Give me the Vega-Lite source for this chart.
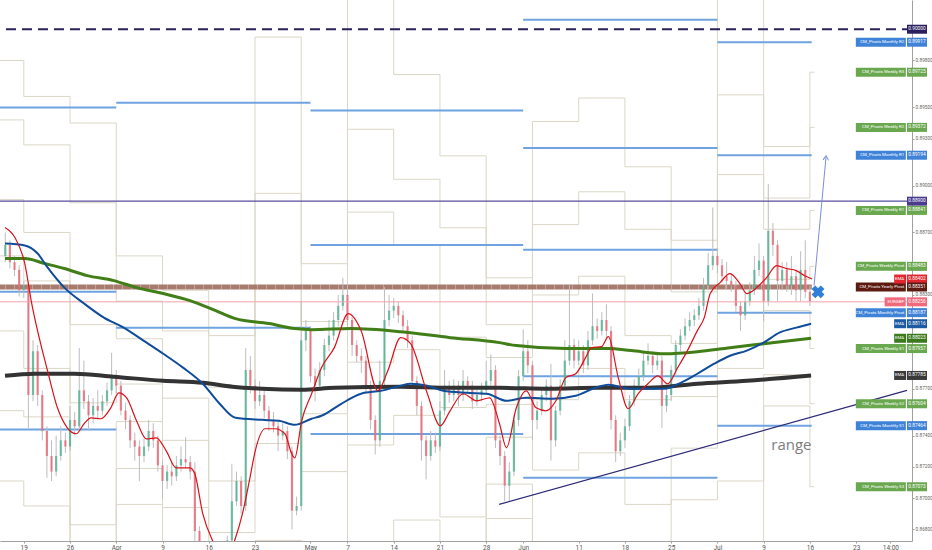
{
"$schema": "https://vega.github.io/schema/vega-lite/v6.json",
"width": 912, "height": 541,
"autosize": {"type": "none"},
"padding": {"left": 0, "top": 0, "right": 20, "bottom": 9},
"background": "#ffffff",
"config": {"view": {"stroke": null}, "font": "Roboto", "axis": {"titleOpacity": 0}},
"datasets": {
"weekly": [
{"t":-3,"R3":0.8980,"R2":0.8942,"R1":0.8891,"P":0.8855,"S1":0.8807,"S2":0.8756,"S3":0.8711},
{"t":0,"R3":0.8957,"R2":0.8926,"R1":0.8870,"P":0.8839,"S1":0.8783,"S2":0.8752,"S3":0.8695},
{"t":5,"R3":0.8940,"R2":0.8889,"R1":0.8811,"P":0.8761,"S1":0.8683,"S2":0.8633,"S3":0.8555},
{"t":10,"R3":0.8855,"R2":0.8826,"R1":0.8802,"P":0.8773,"S1":0.8749,"S2":0.8719,"S3":0.8696},
{"t":15,"R3":0.8833,"R2":0.8807,"R1":0.8764,"P":0.8737,"S1":0.8694,"S2":0.8668,"S3":0.8625},
{"t":20,"R3":0.8804,"R2":0.8771,"R1":0.8711,"P":0.8678,"S1":0.8618,"S2":0.8585,"S3":0.8525},
{"t":25,"R3":0.8995,"R2":0.8895,"R1":0.8834,"P":0.8735,"S1":0.8673,"S2":0.8574,"S3":0.8512},
{"t":30,"R3":0.8850,"R2":0.8813,"R1":0.8754,"P":0.8717,"S1":0.8658,"S2":0.8621,"S3":0.8562},
{"t":35,"R3":0.9031,"R2":0.8936,"R1":0.8883,"P":0.8787,"S1":0.8734,"S2":0.8639,"S3":0.8585},
{"t":40,"R3":0.8971,"R2":0.8904,"R1":0.8862,"P":0.8795,"S1":0.8753,"S2":0.8686,"S3":0.8644},
{"t":45,"R3":0.8919,"R2":0.8873,"R1":0.8803,"P":0.8758,"S1":0.8688,"S2":0.8642,"S3":0.8573},
{"t":50,"R3":0.8841,"R2":0.8811,"R1":0.8790,"P":0.8760,"S1":0.8739,"S2":0.8709,"S3":0.8687},
{"t":55,"R3":0.8941,"R2":0.8875,"R1":0.8830,"P":0.8763,"S1":0.8718,"S2":0.8652,"S3":0.8607},
{"t":60,"R3":0.8956,"R2":0.8896,"R1":0.8842,"P":0.8783,"S1":0.8729,"S2":0.8670,"S3":0.8615},
{"t":65,"R3":0.8912,"R2":0.8872,"R1":0.8804,"P":0.8763,"S1":0.8696,"S2":0.8655,"S3":0.8587},
{"t":70,"R3":0.8865,"R2":0.8832,"R1":0.8799,"P":0.8765,"S1":0.8732,"S2":0.8699,"S3":0.8665},
{"t":75,"R3":0.9030,"R2":0.8958,"R1":0.8907,"P":0.8835,"S1":0.8783,"S2":0.8711,"S3":0.8660},
{"t":80,"R3":0.8925,"R2":0.8892,"R1":0.8872,"P":0.8840,"S1":0.8820,"S2":0.8779,"S3":0.8759},
{"t":85,"R3":0.89725,"R2":0.89372,"R1":0.88841,"P":0.88483,"S1":0.87957,"S2":0.87604,"S3":0.87073},
{"t":85.5,"R3":0.89725,"R2":0.89372,"R1":0.88841,"P":0.88483,"S1":0.87957,"S2":0.87604,"S3":0.87073}
],
"monthly": [
{"s":-3,"e":10,"v":0.8950},{"s":-3,"e":10,"v":0.8832},{"s":-3,"e":10,"v":0.8744},
{"s":10,"e":31,"v":0.8953},{"s":10,"e":31,"v":0.8809},
{"s":31,"e":54,"v":0.8948},{"s":31,"e":54,"v":0.8862},{"s":31,"e":54,"v":0.8741},
{"s":54,"e":75,"v":0.9006},{"s":54,"e":75,"v":0.8924},{"s":54,"e":75,"v":0.8859},{"s":54,"e":75,"v":0.8778},{"s":54,"e":75,"v":0.8713},
{"s":75,"e":85.2,"v":0.89917},{"s":75,"e":85.2,"v":0.89194},{"s":75,"e":85.2,"v":0.88187},{"s":75,"e":85.2,"v":0.87464}
],
"levels": [
{"kind":"navy","v":0.90000},{"kind":"purple","v":0.88900},{"kind":"price","v":0.88256},{"kind":"yearly","v":0.88351,"s":-3,"e":85.2}
],
"candles": [
{"t":-2,"o":0.8855,"h":0.8870,"l":0.8851,"c":0.8862},
{"t":-1.5,"o":0.8862,"h":0.8865,"l":0.8847,"c":0.8851},
{"t":-1,"o":0.8851,"h":0.8855,"l":0.8842,"c":0.8846},
{"t":-0.5,"o":0.8846,"h":0.8849,"l":0.8829,"c":0.8833},
{"t":0,"o":0.8833,"h":0.8839,"l":0.8828,"c":0.8836},
{"t":0.5,"o":0.8836,"h":0.8838,"l":0.8745,"c":0.8766},
{"t":1,"o":0.8766,"h":0.8801,"l":0.8762,"c":0.8794},
{"t":1.5,"o":0.8794,"h":0.8798,"l":0.8759,"c":0.8766},
{"t":2,"o":0.8766,"h":0.8769,"l":0.8737,"c":0.8743},
{"t":2.5,"o":0.8743,"h":0.8746,"l":0.8713,"c":0.8727},
{"t":3,"o":0.8727,"h":0.8737,"l":0.8711,"c":0.8717},
{"t":3.5,"o":0.8717,"h":0.8740,"l":0.8714,"c":0.8727},
{"t":4,"o":0.8727,"h":0.8746,"l":0.8724,"c":0.8737},
{"t":4.5,"o":0.8737,"h":0.8742,"l":0.8729,"c":0.8733},
{"t":5,"o":0.8733,"h":0.8759,"l":0.8730,"c":0.8750},
{"t":5.5,"o":0.8750,"h":0.8755,"l":0.8740,"c":0.8746},
{"t":6,"o":0.8746,"h":0.8796,"l":0.8743,"c":0.8769},
{"t":6.5,"o":0.8769,"h":0.8788,"l":0.8757,"c":0.8762},
{"t":7,"o":0.8762,"h":0.8766,"l":0.8743,"c":0.8753},
{"t":7.5,"o":0.8753,"h":0.8764,"l":0.8748,"c":0.8759},
{"t":8,"o":0.8759,"h":0.8769,"l":0.8751,"c":0.8756},
{"t":8.5,"o":0.8756,"h":0.8766,"l":0.8753,"c":0.8762},
{"t":9,"o":0.8762,"h":0.8774,"l":0.8759,"c":0.8769},
{"t":9.5,"o":0.8769,"h":0.8793,"l":0.8766,"c":0.8778},
{"t":10,"o":0.8778,"h":0.8782,"l":0.8767,"c":0.8772},
{"t":10.5,"o":0.8772,"h":0.8775,"l":0.8753,"c":0.8756},
{"t":11,"o":0.8756,"h":0.8761,"l":0.8744,"c":0.8750},
{"t":11.5,"o":0.8750,"h":0.8753,"l":0.8732,"c":0.8737},
{"t":12,"o":0.8737,"h":0.8742,"l":0.8724,"c":0.8733},
{"t":12.5,"o":0.8733,"h":0.8737,"l":0.8711,"c":0.8727},
{"t":13,"o":0.8727,"h":0.8738,"l":0.8723,"c":0.8733},
{"t":13.5,"o":0.8733,"h":0.8750,"l":0.8730,"c":0.8743},
{"t":14,"o":0.8743,"h":0.8748,"l":0.8732,"c":0.8737},
{"t":14.5,"o":0.8737,"h":0.8740,"l":0.8717,"c":0.8721},
{"t":15,"o":0.8721,"h":0.8724,"l":0.8700,"c":0.8711},
{"t":15.5,"o":0.8711,"h":0.8721,"l":0.8706,"c":0.8717},
{"t":16,"o":0.8717,"h":0.8723,"l":0.8708,"c":0.8714},
{"t":16.5,"o":0.8714,"h":0.8727,"l":0.8711,"c":0.8721},
{"t":17,"o":0.8721,"h":0.8733,"l":0.8717,"c":0.8725},
{"t":17.5,"o":0.8725,"h":0.8739,"l":0.8719,"c":0.8723},
{"t":18,"o":0.8723,"h":0.8727,"l":0.8712,"c":0.8717},
{"t":18.5,"o":0.8717,"h":0.8723,"l":0.8669,"c":0.8679},
{"t":19,"o":0.8679,"h":0.8682,"l":0.8653,"c":0.8660},
{"t":19.5,"o":0.8660,"h":0.8663,"l":0.8644,"c":0.8650},
{"t":20,"o":0.8650,"h":0.8657,"l":0.8640,"c":0.8647},
{"t":20.5,"o":0.8647,"h":0.8650,"l":0.8635,"c":0.8640},
{"t":21,"o":0.8640,"h":0.8652,"l":0.8637,"c":0.8647},
{"t":21.5,"o":0.8647,"h":0.8658,"l":0.8644,"c":0.8653},
{"t":22,"o":0.8653,"h":0.8676,"l":0.8650,"c":0.8673},
{"t":22.5,"o":0.8673,"h":0.8722,"l":0.8669,"c":0.8698},
{"t":23,"o":0.8698,"h":0.8717,"l":0.8695,"c":0.8711},
{"t":23.5,"o":0.8711,"h":0.8714,"l":0.8690,"c":0.8695},
{"t":24,"o":0.8695,"h":0.8796,"l":0.8692,"c":0.8782},
{"t":24.5,"o":0.8782,"h":0.8791,"l":0.8767,"c":0.8772},
{"t":25,"o":0.8772,"h":0.8776,"l":0.8757,"c":0.8762},
{"t":25.5,"o":0.8762,"h":0.8775,"l":0.8759,"c":0.8766},
{"t":26,"o":0.8766,"h":0.8769,"l":0.8751,"c":0.8756},
{"t":26.5,"o":0.8756,"h":0.8759,"l":0.8743,"c":0.8750},
{"t":27,"o":0.8750,"h":0.8755,"l":0.8742,"c":0.8746},
{"t":27.5,"o":0.8746,"h":0.8750,"l":0.8730,"c":0.8740},
{"t":28,"o":0.8740,"h":0.8748,"l":0.8737,"c":0.8743},
{"t":28.5,"o":0.8743,"h":0.8746,"l":0.8725,"c":0.8730},
{"t":29,"o":0.8730,"h":0.8733,"l":0.8680,"c":0.8692},
{"t":29.5,"o":0.8692,"h":0.8701,"l":0.8689,"c":0.8695},
{"t":30,"o":0.8695,"h":0.8826,"l":0.8692,"c":0.8801},
{"t":30.5,"o":0.8801,"h":0.8814,"l":0.8794,"c":0.8807},
{"t":31,"o":0.8807,"h":0.8810,"l":0.8774,"c":0.8778},
{"t":31.5,"o":0.8778,"h":0.8783,"l":0.8762,"c":0.8772},
{"t":32,"o":0.8772,"h":0.8787,"l":0.8769,"c":0.8782},
{"t":32.5,"o":0.8782,"h":0.8802,"l":0.8778,"c":0.8798},
{"t":33,"o":0.8798,"h":0.8814,"l":0.8794,"c":0.8804},
{"t":33.5,"o":0.8804,"h":0.8819,"l":0.8801,"c":0.8814},
{"t":34,"o":0.8814,"h":0.8830,"l":0.8810,"c":0.8823},
{"t":34.5,"o":0.8823,"h":0.8841,"l":0.8820,"c":0.8830},
{"t":35,"o":0.8830,"h":0.8837,"l":0.8810,"c":0.8814},
{"t":35.5,"o":0.8814,"h":0.8817,"l":0.8791,"c":0.8798},
{"t":36,"o":0.8798,"h":0.8801,"l":0.8787,"c":0.8791},
{"t":36.5,"o":0.8791,"h":0.8796,"l":0.8780,"c":0.8788},
{"t":37,"o":0.8788,"h":0.8791,"l":0.8767,"c":0.8772},
{"t":37.5,"o":0.8772,"h":0.8775,"l":0.8744,"c":0.8750},
{"t":38,"o":0.8750,"h":0.8753,"l":0.8728,"c":0.8737},
{"t":38.5,"o":0.8737,"h":0.8788,"l":0.8733,"c":0.8775},
{"t":39,"o":0.8775,"h":0.8835,"l":0.8772,"c":0.8814},
{"t":39.5,"o":0.8814,"h":0.8830,"l":0.8810,"c":0.8820},
{"t":40,"o":0.8820,"h":0.8828,"l":0.8815,"c":0.8823},
{"t":40.5,"o":0.8823,"h":0.8826,"l":0.8812,"c":0.8817},
{"t":41,"o":0.8817,"h":0.8820,"l":0.8806,"c":0.8810},
{"t":41.5,"o":0.8810,"h":0.8814,"l":0.8796,"c":0.8801},
{"t":42,"o":0.8801,"h":0.8804,"l":0.8770,"c":0.8775},
{"t":42.5,"o":0.8775,"h":0.8778,"l":0.8753,"c":0.8759},
{"t":43,"o":0.8759,"h":0.8762,"l":0.8724,"c":0.8737},
{"t":43.5,"o":0.8737,"h":0.8740,"l":0.8712,"c":0.8727},
{"t":44,"o":0.8727,"h":0.8743,"l":0.8724,"c":0.8737},
{"t":44.5,"o":0.8737,"h":0.8742,"l":0.8729,"c":0.8733},
{"t":45,"o":0.8733,"h":0.8762,"l":0.8730,"c":0.8756},
{"t":45.5,"o":0.8756,"h":0.8782,"l":0.8753,"c":0.8772},
{"t":46,"o":0.8772,"h":0.8775,"l":0.8761,"c":0.8766},
{"t":46.5,"o":0.8766,"h":0.8776,"l":0.8762,"c":0.8772},
{"t":47,"o":0.8772,"h":0.8775,"l":0.8759,"c":0.8766},
{"t":47.5,"o":0.8766,"h":0.8782,"l":0.8762,"c":0.8775},
{"t":48,"o":0.8775,"h":0.8778,"l":0.8767,"c":0.8772},
{"t":48.5,"o":0.8772,"h":0.8775,"l":0.8757,"c":0.8762},
{"t":49,"o":0.8762,"h":0.8770,"l":0.8759,"c":0.8766},
{"t":49.5,"o":0.8766,"h":0.8774,"l":0.8762,"c":0.8769},
{"t":50,"o":0.8769,"h":0.8788,"l":0.8766,"c":0.8775},
{"t":50.5,"o":0.8775,"h":0.8792,"l":0.8772,"c":0.8782},
{"t":51,"o":0.8782,"h":0.8785,"l":0.8732,"c":0.8737},
{"t":51.5,"o":0.8737,"h":0.8740,"l":0.8721,"c":0.8727},
{"t":52,"o":0.8727,"h":0.8730,"l":0.8698,"c":0.8708},
{"t":52.5,"o":0.8708,"h":0.8723,"l":0.8698,"c":0.8717},
{"t":53,"o":0.8717,"h":0.8753,"l":0.8714,"c":0.8750},
{"t":53.5,"o":0.8750,"h":0.8782,"l":0.8746,"c":0.8778},
{"t":54,"o":0.8778,"h":0.8808,"l":0.8775,"c":0.8794},
{"t":54.5,"o":0.8794,"h":0.8801,"l":0.8780,"c":0.8785},
{"t":55,"o":0.8785,"h":0.8788,"l":0.8737,"c":0.8750},
{"t":55.5,"o":0.8750,"h":0.8762,"l":0.8744,"c":0.8756},
{"t":56,"o":0.8756,"h":0.8770,"l":0.8753,"c":0.8766},
{"t":56.5,"o":0.8766,"h":0.8776,"l":0.8762,"c":0.8772},
{"t":57,"o":0.8772,"h":0.8786,"l":0.8724,"c":0.8737},
{"t":57.5,"o":0.8737,"h":0.8759,"l":0.8733,"c":0.8756},
{"t":58,"o":0.8756,"h":0.8776,"l":0.8753,"c":0.8772},
{"t":58.5,"o":0.8772,"h":0.8801,"l":0.8769,"c":0.8788},
{"t":59,"o":0.8788,"h":0.8837,"l":0.8785,"c":0.8798},
{"t":59.5,"o":0.8798,"h":0.8802,"l":0.8783,"c":0.8788},
{"t":60,"o":0.8788,"h":0.8801,"l":0.8785,"c":0.8794},
{"t":60.5,"o":0.8794,"h":0.8798,"l":0.8780,"c":0.8785},
{"t":61,"o":0.8785,"h":0.8807,"l":0.8782,"c":0.8801},
{"t":61.5,"o":0.8801,"h":0.8831,"l":0.8798,"c":0.8810},
{"t":62,"o":0.8810,"h":0.8815,"l":0.8802,"c":0.8807},
{"t":62.5,"o":0.8807,"h":0.8819,"l":0.8804,"c":0.8814},
{"t":63,"o":0.8814,"h":0.8824,"l":0.8802,"c":0.8807},
{"t":63.5,"o":0.8807,"h":0.8810,"l":0.8744,"c":0.8750},
{"t":64,"o":0.8750,"h":0.8753,"l":0.8723,"c":0.8730},
{"t":64.5,"o":0.8730,"h":0.8742,"l":0.8727,"c":0.8737},
{"t":65,"o":0.8737,"h":0.8751,"l":0.8732,"c":0.8746},
{"t":65.5,"o":0.8746,"h":0.8766,"l":0.8743,"c":0.8762},
{"t":66,"o":0.8762,"h":0.8776,"l":0.8759,"c":0.8772},
{"t":66.5,"o":0.8772,"h":0.8783,"l":0.8769,"c":0.8778},
{"t":67,"o":0.8778,"h":0.8793,"l":0.8775,"c":0.8788},
{"t":67.5,"o":0.8788,"h":0.8799,"l":0.8785,"c":0.8791},
{"t":68,"o":0.8791,"h":0.8794,"l":0.8780,"c":0.8785},
{"t":68.5,"o":0.8785,"h":0.8793,"l":0.8782,"c":0.8788},
{"t":69,"o":0.8788,"h":0.8791,"l":0.8745,"c":0.8759},
{"t":69.5,"o":0.8759,"h":0.8770,"l":0.8755,"c":0.8766},
{"t":70,"o":0.8766,"h":0.8785,"l":0.8762,"c":0.8782},
{"t":70.5,"o":0.8782,"h":0.8801,"l":0.8778,"c":0.8798},
{"t":71,"o":0.8798,"h":0.8808,"l":0.8794,"c":0.8804},
{"t":71.5,"o":0.8804,"h":0.8815,"l":0.8801,"c":0.8810},
{"t":72,"o":0.8810,"h":0.8819,"l":0.8807,"c":0.8814},
{"t":72.5,"o":0.8814,"h":0.8821,"l":0.8810,"c":0.8817},
{"t":73,"o":0.8817,"h":0.8828,"l":0.8814,"c":0.8823},
{"t":73.5,"o":0.8823,"h":0.8841,"l":0.8820,"c":0.8836},
{"t":74,"o":0.8836,"h":0.8857,"l":0.8833,"c":0.8849},
{"t":74.5,"o":0.8849,"h":0.8886,"l":0.8846,"c":0.8855},
{"t":75,"o":0.8855,"h":0.8860,"l":0.8844,"c":0.8849},
{"t":75.5,"o":0.8849,"h":0.8853,"l":0.8838,"c":0.8842},
{"t":76,"o":0.8842,"h":0.8851,"l":0.8834,"c":0.8839},
{"t":76.5,"o":0.8839,"h":0.8844,"l":0.8832,"c":0.8836},
{"t":77,"o":0.8836,"h":0.8839,"l":0.8819,"c":0.8823},
{"t":77.5,"o":0.8823,"h":0.8826,"l":0.8807,"c":0.8817},
{"t":78,"o":0.8817,"h":0.8832,"l":0.8814,"c":0.8826},
{"t":78.5,"o":0.8826,"h":0.8838,"l":0.8823,"c":0.8833},
{"t":79,"o":0.8833,"h":0.8855,"l":0.8830,"c":0.8846},
{"t":79.5,"o":0.8846,"h":0.8863,"l":0.8842,"c":0.8852},
{"t":80,"o":0.8852,"h":0.8855,"l":0.8813,"c":0.8826},
{"t":80.5,"o":0.8826,"h":0.8901,"l":0.8823,"c":0.8871},
{"t":81,"o":0.8871,"h":0.8876,"l":0.8855,"c":0.8862},
{"t":81.5,"o":0.8862,"h":0.8865,"l":0.8826,"c":0.8839},
{"t":82,"o":0.8839,"h":0.8851,"l":0.8833,"c":0.8846},
{"t":82.5,"o":0.8846,"h":0.8851,"l":0.8832,"c":0.8836},
{"t":83,"o":0.8836,"h":0.8855,"l":0.8830,"c":0.8842},
{"t":83.5,"o":0.8842,"h":0.8846,"l":0.8826,"c":0.8833},
{"t":84,"o":0.8833,"h":0.8858,"l":0.8826,"c":0.8846},
{"t":84.5,"o":0.8846,"h":0.8865,"l":0.8828,"c":0.8832},
{"t":85,"o":0.8832,"h":0.8836,"l":0.8823,"c":0.8826}
],
"ema_red": [
{"t":-2.03,"v":0.88732},{"t":-0.96,"v":0.88668},{"t":0.11,"v":0.88501},{"t":0.86,"v":0.88245},{"t":1.93,"v":0.87963},{"t":2.57,"v":0.87815},{"t":3.64,"v":0.87578},{"t":4.71,"v":0.87450},{"t":5.67,"v":0.87412},{"t":6.52,"v":0.87476},{"t":7.27,"v":0.87514},{"t":8.34,"v":0.87508},{"t":9.41,"v":0.87578},{"t":10.27,"v":0.87674},{"t":11.12,"v":0.87642},{"t":12.19,"v":0.87495},{"t":13.26,"v":0.87379},{"t":14.33,"v":0.87386},{"t":15.40,"v":0.87303},{"t":16.47,"v":0.87194},{"t":17.97,"v":0.87194},{"t":18.50,"v":0.87155},{"t":19.36,"v":0.86899},{"t":20.43,"v":0.86726},{"t":21.18,"v":0.86642},{"t":22.03,"v":0.86630},{"t":22.89,"v":0.86745},{"t":23.64,"v":0.86899},{"t":24.39,"v":0.87110},{"t":25.03,"v":0.87303},{"t":26.10,"v":0.87444},{"t":27.17,"v":0.87444},{"t":28.24,"v":0.87412},{"t":28.98,"v":0.87283},{"t":29.30,"v":0.87258},{"t":30.05,"v":0.87495},{"t":31.12,"v":0.87668},{"t":32.19,"v":0.87835},{"t":33.58,"v":0.87963},{"t":35.08,"v":0.88181},{"t":36.47,"v":0.88072},{"t":38.29,"v":0.87687},{"t":39.36,"v":0.87815},{"t":40.75,"v":0.88027},{"t":41.82,"v":0.87988},{"t":43.64,"v":0.87668},{"t":45.03,"v":0.87463},{"t":46.10,"v":0.87559},{"t":47.49,"v":0.87668},{"t":48.98,"v":0.87623},{"t":50.37,"v":0.87642},{"t":51.44,"v":0.87476},{"t":52.19,"v":0.87322},{"t":53.26,"v":0.87578},{"t":54.33,"v":0.87687},{"t":55.40,"v":0.87578},{"t":56.47,"v":0.87559},{"t":57.54,"v":0.87623},{"t":58.61,"v":0.87771},{"t":59.68,"v":0.87796},{"t":60.75,"v":0.87899},{"t":61.39,"v":0.87963},{"t":62.46,"v":0.87969},{"t":63.21,"v":0.88033},{"t":64.28,"v":0.87771},{"t":65.35,"v":0.87572},{"t":66.42,"v":0.87668},{"t":67.49,"v":0.87732},{"t":68.56,"v":0.87783},{"t":69.63,"v":0.87732},{"t":70.70,"v":0.87835},{"t":71.76,"v":0.87944},{"t":72.83,"v":0.88072},{"t":73.58,"v":0.88155},{"t":74.22,"v":0.88309},{"t":75.29,"v":0.88379},{"t":76.36,"v":0.88437},{"t":77.43,"v":0.88373},{"t":78.18,"v":0.88309},{"t":79.25,"v":0.88347},{"t":80.32,"v":0.88411},{"t":81.39,"v":0.88488},{"t":82.46,"v":0.88469},{"t":83.53,"v":0.88456},{"t":84.39,"v":0.88424},{"t":85.24,"v":0.88402}
],
"ema_blue": [
{"t":-2.03,"v":0.88629},{"t":0.11,"v":0.88617},{"t":1.50,"v":0.88565},{"t":2.57,"v":0.88476},{"t":4.39,"v":0.88347},{"t":6.52,"v":0.88245},{"t":8.66,"v":0.88155},{"t":10.80,"v":0.88091},{"t":12.94,"v":0.88008},{"t":15.08,"v":0.87924},{"t":17.22,"v":0.87835},{"t":19.36,"v":0.87732},{"t":21.18,"v":0.87604},{"t":22.89,"v":0.87514},{"t":25.78,"v":0.87501},{"t":27.59,"v":0.87495},{"t":29.30,"v":0.87469},{"t":31.12,"v":0.87508},{"t":32.19,"v":0.87527},{"t":34.33,"v":0.87604},{"t":36.47,"v":0.87668},{"t":38.61,"v":0.87687},{"t":40.75,"v":0.87719},{"t":41.82,"v":0.87732},{"t":43.64,"v":0.87719},{"t":45.35,"v":0.87687},{"t":47.91,"v":0.87674},{"t":50.05,"v":0.87668},{"t":52.19,"v":0.87623},{"t":54.33,"v":0.87642},{"t":57.11,"v":0.87636},{"t":59.68,"v":0.87655},{"t":62.14,"v":0.87713},{"t":63.21,"v":0.87726},{"t":65.67,"v":0.87700},{"t":69.30,"v":0.87700},{"t":71.02,"v":0.87738},{"t":72.83,"v":0.87796},{"t":74.65,"v":0.87860},{"t":76.36,"v":0.87911},{"t":78.18,"v":0.87944},{"t":80.00,"v":0.87995},{"t":81.71,"v":0.88059},{"t":83.53,"v":0.88091},{"t":85.13,"v":0.88116}
],
"ema_green": [
{"t":-2.03,"v":0.88533},{"t":0.11,"v":0.88533},{"t":2.25,"v":0.88501},{"t":4.39,"v":0.88469},{"t":6.84,"v":0.88424},{"t":9.73,"v":0.88392},{"t":12.19,"v":0.88347},{"t":15.08,"v":0.88309},{"t":17.97,"v":0.88264},{"t":20.75,"v":0.88200},{"t":22.89,"v":0.88149},{"t":26.52,"v":0.88117},{"t":29.30,"v":0.88085},{"t":31.12,"v":0.88078},{"t":35.40,"v":0.88085},{"t":40.75,"v":0.88065},{"t":46.10,"v":0.88027},{"t":51.44,"v":0.87995},{"t":53.26,"v":0.87976},{"t":58.61,"v":0.87957},{"t":63.21,"v":0.87957},{"t":65.67,"v":0.87944},{"t":69.30,"v":0.87924},{"t":72.83,"v":0.87937},{"t":76.36,"v":0.87963},{"t":80.00,"v":0.87988},{"t":85.13,"v":0.88023}
],
"ema_black": [
{"t":-2.03,"v":0.87783},{"t":1.18,"v":0.87796},{"t":5.45,"v":0.87796},{"t":9.73,"v":0.87777},{"t":15.08,"v":0.87751},{"t":19.36,"v":0.87738},{"t":22.57,"v":0.87713},{"t":25.78,"v":0.87700},{"t":30.05,"v":0.87694},{"t":33.58,"v":0.87706},{"t":40.75,"v":0.87713},{"t":46.10,"v":0.87706},{"t":51.44,"v":0.87706},{"t":56.79,"v":0.87700},{"t":62.14,"v":0.87706},{"t":67.49,"v":0.87706},{"t":72.83,"v":0.87732},{"t":78.18,"v":0.87751},{"t":85.13,"v":0.87785}
],
"trend": [{"t":51.4,"v":0.8696},{"t":95.5,"v":0.8769}],
"arrow": [{"t":85.45,"v":0.8836},{"t":86.74,"v":0.8918}],
"notes": [{"kind":"x","t":85.88,"v":0.8832,"label":""},{"kind":"text","t":83.0,"v":0.8734,"label":"range"}],
"labels": [
{"name":"","val":0.90000,"kind":"navy"},
{"name":"CM_Pivots Monthly R2","val":0.89917,"kind":"monthly"},
{"name":"CM_Pivots Weekly R3","val":0.89725,"kind":"weekly"},
{"name":"CM_Pivots Weekly R2","val":0.89372,"kind":"weekly"},
{"name":"CM_Pivots Monthly R1","val":0.89194,"kind":"monthly"},
{"name":"","val":0.88900,"kind":"purple"},
{"name":"CM_Pivots Weekly R1","val":0.88841,"kind":"weekly"},
{"name":"CM_Pivots Weekly Pivot","val":0.88483,"kind":"weekly"},
{"name":"EMA","val":0.88402,"kind":"ema_red"},
{"name":"CM_Pivots Yearly Pivot","val":0.88351,"kind":"yearly"},
{"name":"EURGBP","val":0.88256,"kind":"price"},
{"name":"CM_Pivots Monthly Pivot","val":0.88187,"kind":"monthly"},
{"name":"EMA","val":0.88116,"kind":"ema_blue"},
{"name":"EMA","val":0.88023,"kind":"ema_green"},
{"name":"CM_Pivots Weekly S1","val":0.87957,"kind":"weekly"},
{"name":"EMA","val":0.87785,"kind":"ema_black"},
{"name":"CM_Pivots Weekly S2","val":0.87604,"kind":"weekly"},
{"name":"CM_Pivots Monthly S1","val":0.87464,"kind":"monthly"},
{"name":"CM_Pivots Weekly S3","val":0.87073,"kind":"weekly"}
]
},
"layer": [
{
"data": {"name": "weekly"},
"transform": [{"fold": ["R3","R2","R1","P","S1","S2","S3"], "as": ["level","v"]}],
"mark": {"type": "line", "interpolate": "step-after", "clip": true, "color": "#dbd7c6", "strokeWidth": 1},
"encoding": {
"x": {"field": "t", "type": "quantitative", "title": null, "scale": {"domain": [-2.03, 95.5], "nice": false, "zero": false},
"axis": {"orient": "bottom", "title": null, "grid": false, "values": [0,5,10,15,20,25,31,35,40,45,50,54,60,65,70,75,80,85,90,93.7],
"labelExpr": "datum.value==0?'19':datum.value==5?'26':datum.value==10?'Apr':datum.value==15?'9':datum.value==20?'16':datum.value==25?'23':datum.value==31?'May':datum.value==35?'7':datum.value==40?'14':datum.value==45?'21':datum.value==50?'28':datum.value==54?'Jun':datum.value==60?'11':datum.value==65?'18':datum.value==70?'25':datum.value==75?'Jul':datum.value==80?'9':datum.value==85?'16':datum.value==90?'23':'14:00'",
"domainColor": "#a0a0a0", "tickColor": "#a0a0a0", "tickSize": 2, "labelFontSize": 6.5, "labelColor": "#555555", "labelPadding": 1, "labelOverlap": false, "labelFlush": false}},
"y": {"field": "v", "type": "quantitative", "title": null, "scale": {"domain": [0.86726, 0.90187], "nice": false, "zero": false},
"axis": {"orient": "right", "title": null, "grid": false, "values": [0.868,0.869,0.870,0.871,0.872,0.873,0.874,0.875,0.877,0.879,0.883,0.886,0.887,0.888,0.890,0.891,0.893,0.894,0.895,0.896,0.898,0.901],
"format": ".5f", "domainColor": "#a0a0a0", "tickColor": "#a0a0a0", "tickSize": 2, "labelFont": "Roboto", "labelFontSize": 4.8, "labelColor": "#666666", "labelPadding": 1, "labelOverlap": false, "labelFlush": false}},
"detail": {"field": "level"}
}
},
{
"data": {"name": "monthly"},
"mark": {"type": "rule", "clip": true, "color": "#6fa2e0", "strokeWidth": 2},
"encoding": {
"x": {"field": "s", "type": "quantitative", "title": null},
"x2": {"field": "e"},
"y": {"field": "v", "type": "quantitative", "title": null}
}
},
{
"data": {"name": "levels"},
"transform": [{"filter": "datum.kind == 'yearly'"}],
"mark": {"type": "rule", "clip": true, "color": "#9e6d5f", "strokeWidth": 5, "opacity": 0.9},
"encoding": {
"x": {"field": "s", "type": "quantitative", "title": null},
"x2": {"field": "e"},
"y": {"field": "v", "type": "quantitative", "title": null}
}
},
{
"data": {"name": "levels"},
"transform": [{"filter": "datum.kind == 'yearly'"}],
"mark": {"type": "rule", "clip": true, "color": "#ffffff", "strokeWidth": 5, "opacity": 0.3, "strokeDash": [1, 8]},
"encoding": {
"x": {"field": "s", "type": "quantitative", "title": null},
"x2": {"field": "e"},
"y": {"field": "v", "type": "quantitative", "title": null}
}
},
{
"data": {"name": "candles"},
"mark": {"type": "rule", "clip": true, "color": "#bdbdbd", "strokeWidth": 1},
"encoding": {
"x": {"field": "t", "type": "quantitative", "title": null},
"y": {"field": "l", "type": "quantitative", "title": null},
"y2": {"field": "h"}
}
},
{
"data": {"name": "candles"},
"mark": {"type": "bar", "clip": true, "width": 2.2, "opacity": 0.75},
"encoding": {
"x": {"field": "t", "type": "quantitative", "title": null},
"y": {"field": "o", "type": "quantitative", "title": null},
"y2": {"field": "c"},
"color": {"condition": {"test": "datum.c >= datum.o", "value": "#4caf8c"}, "value": "#e8626f"}
}
},
{
"data": {"name": "levels"},
"transform": [{"filter": "datum.kind == 'price'"}],
"mark": {"type": "rule", "color": "#f3a2ab", "strokeWidth": 1},
"encoding": {"y": {"field": "v", "type": "quantitative", "title": null}}
},
{
"data": {"name": "levels"},
"transform": [{"filter": "datum.kind == 'purple'"}],
"mark": {"type": "rule", "color": "#5a4c9f", "strokeWidth": 1.2},
"encoding": {"y": {"field": "v", "type": "quantitative", "title": null}}
},
{
"data": {"name": "levels"},
"transform": [{"filter": "datum.kind == 'navy'"}],
"mark": {"type": "rule", "color": "#2b1f5f", "strokeWidth": 2, "strokeDash": [10, 6]},
"encoding": {"y": {"field": "v", "type": "quantitative", "title": null}}
},
{
"data": {"name": "ema_black"},
"mark": {"type": "line", "clip": true, "interpolate": "monotone", "color": "#333333", "strokeWidth": 4},
"encoding": {"x": {"field": "t", "type": "quantitative", "title": null}, "y": {"field": "v", "type": "quantitative", "title": null}}
},
{
"data": {"name": "ema_green"},
"mark": {"type": "line", "clip": true, "interpolate": "monotone", "color": "#417e17", "strokeWidth": 3},
"encoding": {"x": {"field": "t", "type": "quantitative", "title": null}, "y": {"field": "v", "type": "quantitative", "title": null}}
},
{
"data": {"name": "ema_blue"},
"mark": {"type": "line", "clip": true, "interpolate": "monotone", "color": "#0f4c9a", "strokeWidth": 2},
"encoding": {"x": {"field": "t", "type": "quantitative", "title": null}, "y": {"field": "v", "type": "quantitative", "title": null}}
},
{
"data": {"name": "ema_red"},
"mark": {"type": "line", "clip": true, "interpolate": "monotone", "color": "#d8121b", "strokeWidth": 1.2},
"encoding": {"x": {"field": "t", "type": "quantitative", "title": null}, "y": {"field": "v", "type": "quantitative", "title": null}}
},
{
"data": {"name": "trend"},
"mark": {"type": "line", "clip": true, "color": "#2e2a78", "strokeWidth": 1.3},
"encoding": {"x": {"field": "t", "type": "quantitative", "title": null}, "y": {"field": "v", "type": "quantitative", "title": null}}
},
{
"data": {"name": "arrow"},
"mark": {"type": "line", "color": "#7a8ed8", "strokeWidth": 1},
"encoding": {"x": {"field": "t", "type": "quantitative", "title": null}, "y": {"field": "v", "type": "quantitative", "title": null}}
},
{
"data": {"name": "arrow"},
"transform": [{"filter": "datum.t > 86"}],
"mark": {"type": "point", "shape": "M -1 1 L 0 -0.6 L 1 1", "filled": false, "stroke": "#7a8ed8", "strokeWidth": 1, "size": 30, "angle": 5, "opacity": 1},
"encoding": {"x": {"field": "t", "type": "quantitative", "title": null}, "y": {"field": "v", "type": "quantitative", "title": null}}
},
{
"data": {"name": "notes"},
"transform": [{"filter": "datum.kind == 'x'"}],
"mark": {"type": "point", "shape": "cross", "angle": 45, "filled": true, "color": "#2f7fd8", "size": 170, "opacity": 1},
"encoding": {"x": {"field": "t", "type": "quantitative", "title": null}, "y": {"field": "v", "type": "quantitative", "title": null}}
},
{
"data": {"name": "notes"},
"transform": [{"filter": "datum.kind == 'text'"}],
"mark": {"type": "text", "fontSize": 15, "color": "#7d7d7d", "align": "center", "baseline": "middle", "font": "Open Sans"},
"encoding": {"x": {"field": "t", "type": "quantitative", "title": null}, "y": {"field": "v", "type": "quantitative", "title": null}, "text": {"field": "label"}}
},
{
"data": {"name": "labels"},
"transform": [{"filter": "indexof(['monthly','weekly','yearly'], datum.kind) >= 0"}],
"mark": {"type": "tick", "orient": "horizontal", "size": 50, "thickness": 9, "opacity": 1},
"encoding": {
"x": {"datum": 92.67, "type": "quantitative", "title": null},
"y": {"field": "val", "type": "quantitative", "title": null},
"color": {"field": "kind", "type": "nominal", "legend": null, "scale": {"domain": ["navy","monthly","weekly","purple","ema_red","yearly","price","ema_blue","ema_green","ema_black"], "range": ["#2b1f5f","#3f83d9","#6aa84f","#4a3b8f","#e3262e","#5c1a10","#f06a7c","#1c5aa3","#3b7a1c","#3a3a3a"]}}
}
},
{
"data": {"name": "labels"},
"transform": [{"filter": "indexof(['ema_red','ema_blue','ema_green','ema_black'], datum.kind) >= 0"}],
"mark": {"type": "tick", "orient": "horizontal", "size": 12, "thickness": 9, "opacity": 1},
"encoding": {
"x": {"datum": 94.76, "type": "quantitative", "title": null},
"y": {"field": "val", "type": "quantitative", "title": null},
"color": {"field": "kind", "type": "nominal", "legend": null}
}
},
{
"data": {"name": "labels"},
"transform": [{"filter": "datum.kind == 'price'"}],
"mark": {"type": "tick", "orient": "horizontal", "size": 21, "thickness": 9, "opacity": 1},
"encoding": {
"x": {"datum": 94.22, "type": "quantitative", "title": null},
"y": {"field": "val", "type": "quantitative", "title": null},
"color": {"field": "kind", "type": "nominal", "legend": null}
}
},
{
"data": {"name": "labels"},
"mark": {"type": "tick", "orient": "horizontal", "size": 20, "thickness": 9, "opacity": 1},
"encoding": {
"x": {"datum": 96.58, "type": "quantitative", "title": null},
"y": {"field": "val", "type": "quantitative", "title": null},
"color": {"field": "kind", "type": "nominal", "legend": null}
}
},
{
"data": {"name": "labels"},
"transform": [{"filter": "datum.name != ''"}],
"mark": {"type": "text", "align": "right", "baseline": "middle", "fontSize": 4.4, "font": "Roboto", "color": "#ffffff", "dx": -1},
"encoding": {
"x": {"datum": 95.3, "type": "quantitative", "title": null},
"y": {"field": "val", "type": "quantitative", "title": null},
"text": {"field": "name"}
}
},
{
"data": {"name": "labels"},
"mark": {"type": "text", "align": "center", "baseline": "middle", "fontSize": 4.8, "font": "Roboto", "color": "#ffffff"},
"encoding": {
"x": {"datum": 96.58, "type": "quantitative", "title": null},
"y": {"field": "val", "type": "quantitative", "title": null},
"text": {"field": "val", "type": "quantitative", "format": ".5f"}
}
}
]
}
